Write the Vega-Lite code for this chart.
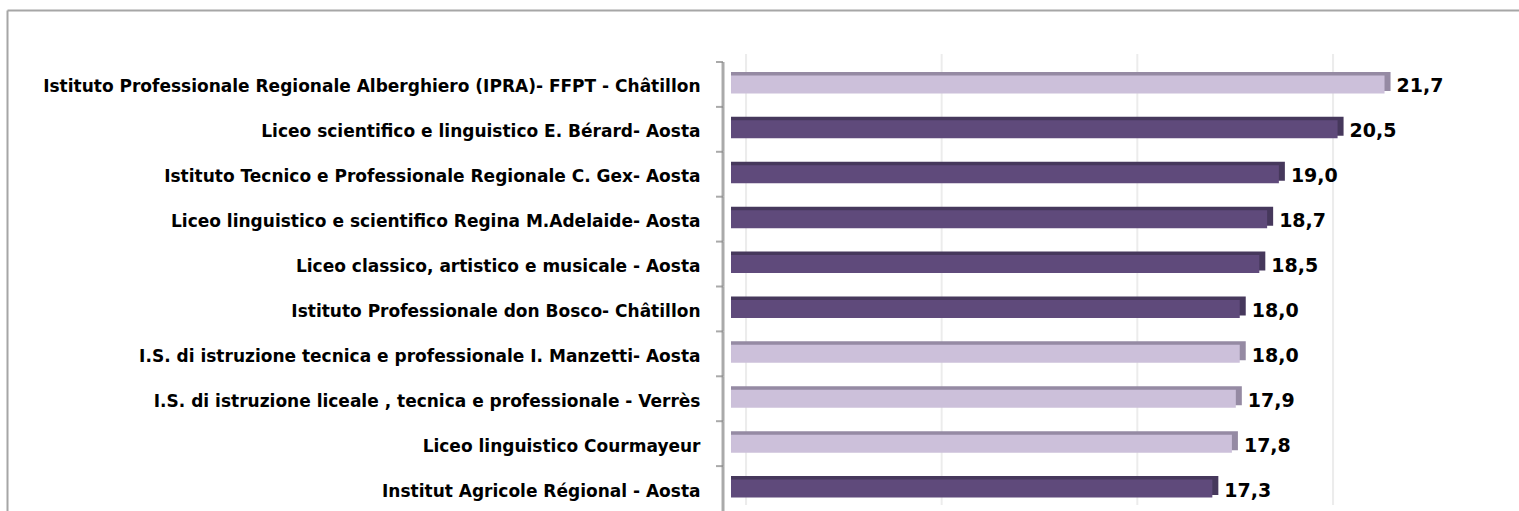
{
  "$schema": "https://vega.github.io/schema/vega-lite/v6.json",
  "width": 1512,
  "height": 501,
  "autosize": {"type": "none"},
  "padding": {"left": 7, "top": 10, "right": 0, "bottom": 0},
  "background": "white",
  "config": {
    "view": {"stroke": null},
    "locale": {"number": {"decimal": ",", "thousands": ".", "grouping": [3], "currency": ["", " €"]}}
  },
  "data": {"values": [
    {"scuola": "Istituto Professionale Regionale Alberghiero (IPRA)- FFPT - Châtillon", "valore": 21.7, "gruppo": "B"},
    {"scuola": "Liceo scientifico e linguistico E. Bérard- Aosta", "valore": 20.5, "gruppo": "A"},
    {"scuola": "Istituto Tecnico e Professionale Regionale C. Gex- Aosta", "valore": 19.0, "gruppo": "A"},
    {"scuola": "Liceo linguistico e scientifico Regina M.Adelaide- Aosta", "valore": 18.7, "gruppo": "A"},
    {"scuola": "Liceo classico, artistico e musicale - Aosta", "valore": 18.5, "gruppo": "A"},
    {"scuola": "Istituto Professionale don Bosco- Châtillon", "valore": 18.0, "gruppo": "A"},
    {"scuola": "I.S. di istruzione tecnica e professionale  I. Manzetti- Aosta", "valore": 18.0, "gruppo": "B"},
    {"scuola": "I.S. di istruzione liceale , tecnica e professionale - Verrès", "valore": 17.9, "gruppo": "B"},
    {"scuola": "Liceo linguistico Courmayeur", "valore": 17.8, "gruppo": "B"},
    {"scuola": "Institut Agricole Régional - Aosta", "valore": 17.3, "gruppo": "A"}
  ]},
  "layer": [
    {
      "data": {"values": [{"g": 5}, {"g": 10}, {"g": 15}, {"g": 20}, {"g": 25}]},
      "mark": {"type": "tick", "orient": "vertical", "color": "#E4E4E4", "thickness": 2, "size": 451, "xOffset": 15, "yOffset": 19},
      "encoding": {
        "x": {"field": "g", "type": "quantitative", "scale": {"domain": [-13.501, 25.136], "zero": false, "nice": false},
          "axis": {"orient": "top", "labels": false, "ticks": false, "grid": false, "domainColor": "#A6A6A6", "domainWidth": 2, "title": null}}
      }
    },
    {
      "mark": {"type": "tick", "orient": "vertical", "color": "#868686", "thickness": 3, "size": 44.9},
      "encoding": {
        "x": {"datum": 4.796, "type": "quantitative"},
        "y": {"field": "scuola", "type": "nominal", "sort": null,
          "scale": {"paddingInner": 0, "paddingOuter": 0.579, "align": 1},
          "axis": {"title": null, "ticks": false, "tickSize": 0, "grid": false, "domainColor": "#A6A6A6", "domainWidth": 2,
            "labelPadding": -693, "labelOffset": 3, "labelLimit": 0, "labelFont": "DejaVu Sans", "labelFontWeight": "bold", "labelFontSize": 17, "labelColor": "#000000", "labelOverlap": false}}
      }
    },
    {
      "mark": {"type": "tick", "orient": "horizontal", "color": "#868686", "thickness": 2, "size": 7},
      "encoding": {
        "x": {"datum": 4.706, "type": "quantitative"},
        "y": {"field": "scuola", "type": "nominal", "sort": null, "bandPosition": 0}
      }
    },
    {
      "mark": {"type": "bar", "height": 19, "xOffset": 6, "yOffset": -3},
      "encoding": {
        "x": {"field": "valore", "type": "quantitative"},
        "x2": {"datum": 5},
        "y": {"field": "scuola", "type": "nominal", "sort": null},
        "color": {"field": "gruppo", "type": "nominal", "scale": {"domain": ["A", "B"], "range": ["#46385C", "#958AA3"]}, "legend": null}
      }
    },
    {
      "mark": {"type": "bar", "height": 18},
      "encoding": {
        "x": {"field": "valore", "type": "quantitative"},
        "x2": {"datum": 5},
        "y": {"field": "scuola", "type": "nominal", "sort": null},
        "fill": {"field": "gruppo", "type": "nominal", "scale": {"domain": ["A", "B"], "range": ["#5F4A7B", "#CCC0DA"]}, "legend": null}
      }
    },
    {
      "mark": {"type": "text", "align": "left", "baseline": "middle", "dx": 12, "dy": 2, "font": "DejaVu Sans", "fontWeight": "bold", "fontSize": 19, "color": "#000000"},
      "encoding": {
        "x": {"field": "valore", "type": "quantitative"},
        "y": {"field": "scuola", "type": "nominal", "sort": null},
        "text": {"field": "valore", "type": "quantitative", "format": ".1f"}
      }
    }
  ],
  "resolve": {"scale": {"color": "independent", "fill": "independent"}}
}
